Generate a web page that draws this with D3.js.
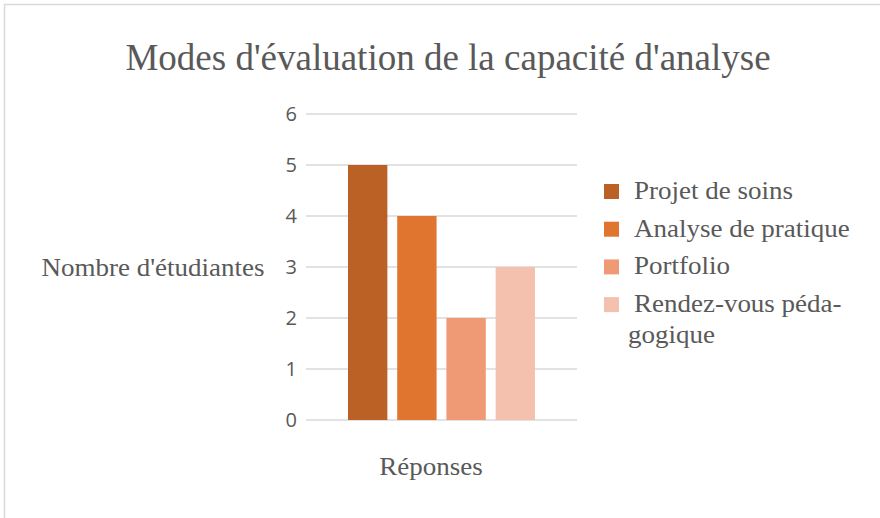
<!DOCTYPE html>
<html>
<head>
<meta charset="utf-8">
<script src="https://cdn.jsdelivr.net/npm/d3@7"></script>
<style>
  body { margin: 0; background: #fff; }
  svg { display: block; }
</style>
</head>
<body>
<div id="chart"></div>
<script>
var seriesNames = ["Projet de soins", "Analyse de pratique", "Portfolio", "Rendez-vous péda-gogique"];
var legendLines = [["Projet de soins"], ["Analyse de pratique"], ["Portfolio"], ["Rendez-vous péda-", "gogique"]];
var seriesValues = [5, 4, 2, 3];
var seriesColors = ["#bc6125", "#df752f", "#ef9a74", "#f4c1ae"];
var yTicks = [0, 1, 2, 3, 4, 5, 6];

var width = 880, height = 518;
var margin = { top: 114, right: 303, bottom: 98, left: 306 };
var plotW = width - margin.left - margin.right;
var plotH = height - margin.top - margin.bottom;
var serif = "'Liberation Serif', 'Times New Roman', serif";
var stretch = 1.08;

var svg = d3.select("#chart").append("svg")
    .attr("width", width)
    .attr("height", height);

// chart border
svg.append("rect")
    .attr("x", 4.5).attr("y", 4.5)
    .attr("width", width + 10).attr("height", height + 10)
    .style("fill", "#fff")
    .style("stroke", "#d9d9d9")
    .style("stroke-width", 1.5);

var chart = svg.append("g")
    .attr("transform", "translate(" + margin.left + "," + margin.top + ")");

var yScale = d3.scaleLinear().domain([0, 6]).range([plotH, 0]);
var xScale = d3.scaleBand()
    .domain(seriesNames)
    .range([42, 229])
    .paddingInner(0.2);

// gridlines
chart.append("g").selectAll("line")
    .data(yTicks)
    .enter().append("line")
    .attr("x1", 0).attr("x2", plotW)
    .attr("y1", function (d) { return yScale(d); })
    .attr("y2", function (d) { return yScale(d); })
    .style("stroke", "#d9d9d9")
    .style("stroke-width", 1.5);

// y axis
var yAxis = chart.append("g")
    .call(d3.axisLeft(yScale).tickValues(yTicks).tickFormat(d3.format("d")).tickSize(0).tickPadding(9));
yAxis.select(".domain").remove();
yAxis.selectAll("text")
    .style("font-family", "'Open Sans', 'Noto Sans', sans-serif")
    .style("font-size", "20px")
    .style("fill", "#595959");

// bars
chart.selectAll(".bar")
    .data(seriesValues)
    .enter().append("rect")
    .attr("class", "bar")
    .attr("x", function (d, i) { return xScale(seriesNames[i]); })
    .attr("width", xScale.bandwidth())
    .attr("y", function (d) { return yScale(d); })
    .attr("height", function (d) { return plotH - yScale(d); })
    .style("fill", function (d, i) { return seriesColors[i]; });

function label(parent, x, y, txt, anchor, size, sx) {
    return parent.append("text")
        .attr("transform", "translate(" + x + "," + y + ") scale(" + sx + ",1)")
        .style("text-anchor", anchor)
        .style("font-family", serif)
        .style("font-size", size + "px")
        .style("fill", "#595959")
        .text(txt);
}

// title
label(svg, 448, 70, "Modes d'évaluation de la capacité d'analyse", "middle", 37, 1);

// axis titles
label(svg, 153, 276, "Nombre d'étudiantes", "middle", 25, stretch);
label(svg, 431, 475, "Réponses", "middle", 25, stretch);

// legend
var legend = svg.append("g").attr("transform", "translate(604,184)");
legendLines.forEach(function (lines, i) {
    var g = legend.append("g").attr("transform", "translate(0," + (i * 37.7) + ")");
    g.append("rect")
        .attr("width", 15).attr("height", 15)
        .style("fill", seriesColors[i]);
    lines.forEach(function (t, j) {
        label(g, j === 0 ? 30 : 24, 15 + j * 31, t, "start", 25, stretch);
    });
});
</script>
</body>
</html>
